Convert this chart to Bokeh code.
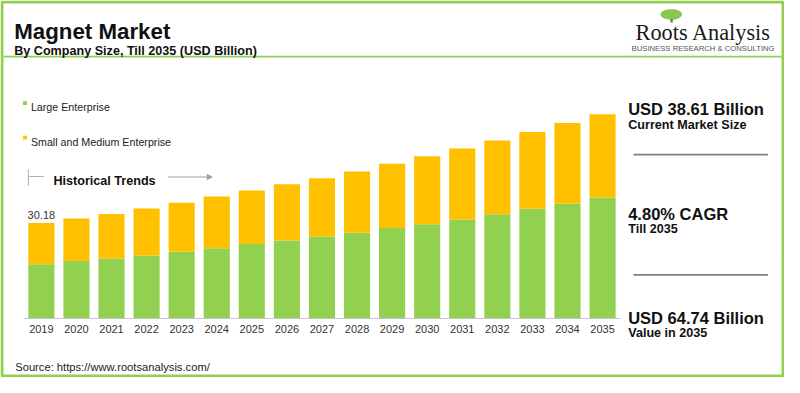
import numpy as np
from bokeh.plotting import figure
from bokeh.models import (Range1d, Label, BoxAnnotation, Arrow, NormalHead,
                          PolyAnnotation, ColumnDataSource, LinearAxis, FixedTicker)
from bokeh.core.properties import value
from bokeh.embed import file_html
from bokeh.resources import INLINE

# ---------------- data ----------------
years = [str(y) for y in range(2019, 2036)]
large_enterprise = [17.1, 18.1, 18.9, 19.9, 21.1, 22.2, 23.5, 24.6, 25.9,
                    27.1, 28.6, 29.8, 31.3, 33.0, 34.7, 36.3, 38.3]
small_medium = [13.08, 13.5, 14.2, 14.9, 15.5, 16.41, 17.0, 17.9, 18.5,
                19.5, 20.4, 21.6, 22.6, 23.4, 24.4, 25.7, 26.44]
series_names = ["Large Enterprise", "Small and Medium Enterprise"]
series_colors = ["#92D050", "#FFC000"]
first_total = round(large_enterprise[0] + small_medium[0], 2)
positions = list(range(len(years)))

# ---------------- layout ----------------
W, H = 784, 377
SXF, SYF = W / 800, H / 393
def X(x): return x * SXF      # reference px -> canvas px
def Y(y): return y * SYF
def FS(px): return f"{px * 0.97:.1f}px"

# chart geometry (canvas px)
first_center = X(41.7)
pitch = X(35.79)
baseline = Y(331)
px_per_unit = 3.28 * SYF
bx0 = -first_center / pitch
bx1 = bx0 + W / pitch
by0 = (baseline - H) / px_per_unit
by1 = baseline / px_per_unit

p = figure(width=W, height=H, x_range=Range1d(0, W), y_range=Range1d(H, 0),
           output_backend="svg", toolbar_location=None,
           min_border=0, x_axis_location=None, y_axis_location=None)
p.extra_x_ranges = {"bar": Range1d(bx0, bx1)}
p.extra_y_ranges = {"bar": Range1d(by0, by1)}
p.outline_line_color = None
p.grid.visible = False
p.background_fill_color = "white"
p.border_fill_color = "white"

src = ColumnDataSource(dict(pos=positions, **{series_names[0]: large_enterprise,
                                             series_names[1]: small_medium}))
p.vbar_stack(series_names, x="pos", width=0.745, color=series_colors,
             source=src, line_color=None, x_range_name="bar", y_range_name="bar")

ax = LinearAxis(x_range_name="bar", y_range_name="bar", fixed_location=0,
                ticker=FixedTicker(ticks=positions),
                major_label_overrides={i: y for i, y in zip(positions, years)},
                bounds=(positions[0] - 0.5, positions[-1] + 0.5))
ax.axis_line_color = "#c8c8c8"
ax.axis_line_width = 1
ax.major_tick_line_color = None
ax.minor_tick_line_color = None
ax.major_tick_out = 0
ax.major_tick_in = 0
ax.major_label_standoff = 7
ax.major_label_text_font = "Liberation Sans"
ax.major_label_text_font_size = "11px"
ax.major_label_text_color = "#333333"
p.add_layout(ax, "below")

# first value label
p.text(x=[positions[0]], y=[first_total], text=[f"{first_total:.2f}"],
       text_font=value("Liberation Sans"), text_font_size="11px",
       text_color="#333333", text_align="center", text_baseline="bottom",
       y_offset=-4, x_range_name="bar", y_range_name="bar")

FONT = "Liberation Sans"
def lbl(text, x, y, size, bold=False, color="#111111", font=FONT, align="left"):
    p.add_layout(Label(x=X(x), y=Y(y), text=text, text_font=font,
                       text_font_size=FS(size),
                       text_font_style="bold" if bold else "normal",
                       text_color=color, text_align=align,
                       text_baseline="alphabetic"))

def box(l, r, t, b, fill):
    p.add_layout(BoxAnnotation(left=X(l), right=X(r), top=Y(t), bottom=Y(b),
                               fill_color=fill, fill_alpha=1, line_color=None))

def line(x0, y0, x1, y1, color="#9a9a9a", width=1, head=None):
    p.add_layout(Arrow(x_start=X(x0), y_start=Y(y0), x_end=X(x1), y_end=Y(y1),
                       line_color=color, line_width=width, end=head))

GREEN = "#92D050"
# outer border
p.add_layout(BoxAnnotation(left=1.5, right=W - 1.5, top=1.5, bottom=H - 1.5,
                           fill_alpha=0, line_color=GREEN, line_width=3,
                           line_alpha=1))
# header separator
box(3, 797, 57.5, 59.5, GREEN)

# titles
lbl("Magnet Market", 14, 32, 23, bold=True)
lbl("By Company Size, Till 2035 (USD Billion)", 14, 52.5, 13, bold=True)

# logo
t = np.linspace(0, 2 * np.pi, 40)
p.add_layout(PolyAnnotation(xs=list(X(684.5 + 11 * np.cos(t))),
                            ys=list(Y(14.5 + 5.5 * np.sin(t))),
                            fill_color="#7cc142", fill_alpha=0.9, line_color=None))
box(683.5, 686, 19, 23, "#5a8a3a")
lbl("Roots Analysis", 648, 33, 23, color="#1a1a1a", font="Liberation Serif")
lbl("BUSINESS RESEARCH & CONSULTING", 644, 50.5, 7.9, color="#555555")

# legend
box(23, 27, 105, 109, series_colors[0])
lbl(series_names[0], 31, 111, 11, color="#222222")
box(23, 27, 141, 145, series_colors[1])
lbl(series_names[1], 31, 147, 11, color="#222222")

# historical trends
line(28.5, 176, 28.5, 193, color="#b0b0b0")
line(28.5, 183.5, 44, 183.5, color="#b0b0b0")
lbl("Historical Trends", 54, 188, 13, bold=True)
line(171, 184, 216, 184, color="#a0a0a0",
     head=NormalHead(size=5, line_color="#a0a0a0", fill_color="#a0a0a0"))

# right-side stats
lbl("USD 38.61 Billion", 640.5, 113.5, 17, bold=True)
lbl("Current Market Size", 640.5, 130, 13, bold=True)
box(646, 783, 159.7, 161.7, "#7f7f7f")
lbl("4.80% CAGR", 640.5, 222.5, 17, bold=True)
lbl("Till 2035", 640.5, 238.5, 13, bold=True)
box(646, 783, 285, 287, "#7f7f7f")
lbl("USD 64.74 Billion", 640.5, 330.5, 17, bold=True)
lbl("Value in 2035", 640.5, 346.5, 13, bold=True)

# source
lbl("Source: https://www.rootsanalysis.com/", 15, 382.5, 11.5, color="#222222")

open("out.html", "w").write(file_html(p, INLINE))
